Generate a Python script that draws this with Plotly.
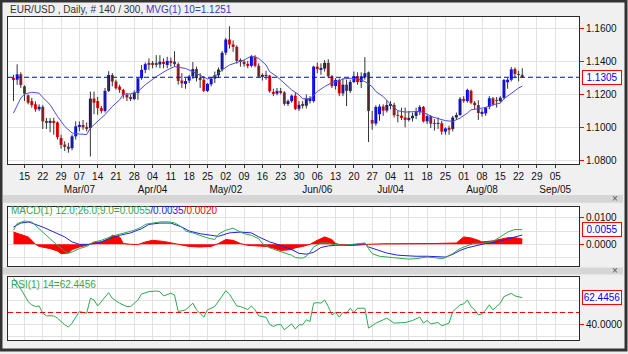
import plotly.graph_objects as go
import pandas as pd

W, H = 628, 354
START = "2016-02-10"
N_BARS = 140
TOTAL_BARS = 300
SYMBOL = "EUR/USD"

OPEN = [1.1296,1.1290,1.1323,1.1250,1.1195,1.1160,1.1140,1.1110,1.1125,1.1036,
        1.1030,1.1035,1.1030,1.0935,1.0895,1.0882,1.0873,1.0945,1.1008,1.1014,
        1.1000,1.0996,1.1175,1.1160,1.1117,1.1100,1.1222,1.1319,1.1279,1.1248,
        1.1228,1.1198,1.1185,1.1172,1.1210,1.1300,1.1350,1.1385,1.1392,1.1392,
        1.1383,1.1398,1.1380,1.1405,1.1400,1.1385,1.1285,1.1265,1.1285,1.1310,
        1.1355,1.1300,1.1290,1.1222,1.1262,1.1297,1.1317,1.1352,1.1455,1.1535,
        1.1505,1.1490,1.1404,1.1400,1.1385,1.1375,1.1430,1.1375,1.1310,1.1315,
        1.1315,1.1215,1.1205,1.1222,1.1213,1.1142,1.1160,1.1193,1.1113,1.1137,
        1.1132,1.1160,1.1160,1.1370,1.1355,1.1358,1.1393,1.1311,1.1252,1.1289,
        1.1207,1.1260,1.1222,1.1276,1.1312,1.1276,1.1305,1.1335,1.1045,1.1023,
        1.1080,1.1127,1.1102,1.1136,1.1137,1.1074,1.1071,1.1060,1.1051,1.1055,
        1.1070,1.1092,1.1124,1.1036,1.1068,1.1022,1.1021,1.1025,1.0974,1.0993,
        1.0990,1.1060,1.1075,1.1172,1.1160,1.1223,1.1150,1.1135,1.1087,1.1085,
        1.1125,1.1177,1.1165,1.1160,1.1180,1.1275,1.1290,1.1355,1.1325,1.1320]
HIGH = [1.1320,1.1384,1.1335,1.1255,1.1200,1.1180,1.1158,1.1140,1.1135,1.1057,
        1.1057,1.1058,1.1036,1.0955,1.0915,1.0905,1.0956,1.1036,1.1036,1.1045,
        1.1030,1.1218,1.1218,1.1185,1.1130,1.1240,1.1342,1.1330,1.1290,1.1260,
        1.1235,1.1210,1.1200,1.1225,1.1305,1.1380,1.1395,1.1420,1.1404,1.1440,
        1.1440,1.1420,1.1430,1.1425,1.1464,1.1395,1.1330,1.1300,1.1320,1.1398,
        1.1370,1.1330,1.1310,1.1270,1.1300,1.1340,1.1365,1.1465,1.1545,1.1616,
        1.1530,1.1500,1.1420,1.1410,1.1405,1.1440,1.1440,1.1390,1.1330,1.1345,
        1.1320,1.1235,1.1240,1.1240,1.1220,1.1170,1.1200,1.1210,1.1160,1.1160,
        1.1200,1.1190,1.1375,1.1395,1.1390,1.1410,1.1415,1.1320,1.1300,1.1298,
        1.1298,1.1290,1.1290,1.1340,1.1335,1.1335,1.1428,1.1340,1.1100,1.1135,
        1.1140,1.1140,1.1165,1.1160,1.1150,1.1100,1.1120,1.1120,1.1100,1.1090,
        1.1120,1.1135,1.1130,1.1080,1.1075,1.1050,1.1060,1.1040,1.1000,1.1010,
        1.1070,1.1090,1.1185,1.1190,1.1235,1.1230,1.1160,1.1165,1.1110,1.1125,
        1.1190,1.1185,1.1185,1.1190,1.1295,1.1300,1.1367,1.1365,1.1345,1.1360]
LOW = [1.1160,1.1259,1.1240,1.1160,1.1140,1.1120,1.1095,1.1100,1.0990,1.0990,
       1.0970,1.0955,1.0925,1.0870,1.0855,1.0845,1.0860,1.0925,1.0976,1.0985,
       1.0975,1.0822,1.1080,1.1077,1.1085,1.1090,1.1215,1.1250,1.1230,1.1210,
       1.1175,1.1160,1.1160,1.1165,1.1168,1.1290,1.1330,1.1350,1.1360,1.1365,
       1.1360,1.1360,1.1360,1.1370,1.1370,1.1260,1.1240,1.1235,1.1270,1.1295,
       1.1280,1.1240,1.1215,1.1215,1.1250,1.1270,1.1300,1.1340,1.1440,1.1480,
       1.1460,1.1388,1.1370,1.1370,1.1360,1.1365,1.1365,1.1300,1.1285,1.1290,
       1.1210,1.1190,1.1195,1.1200,1.1132,1.1130,1.1150,1.1105,1.1100,1.1115,
       1.1115,1.1145,1.1150,1.1330,1.1320,1.1340,1.1300,1.1240,1.1230,1.1190,
       1.1190,1.1130,1.1210,1.1270,1.1260,1.1240,1.1290,1.0910,1.0985,1.1010,
       1.1040,1.1070,1.1090,1.1110,1.1060,1.1030,1.1045,1.1000,1.1035,1.1035,
       1.1050,1.1075,1.1030,1.1020,1.0995,1.0980,1.0990,1.0955,1.0955,1.0955,
       1.0975,1.1045,1.1070,1.1150,1.1150,1.1140,1.1110,1.1045,1.1065,1.1070,
       1.1110,1.1130,1.1120,1.1150,1.1170,1.1235,1.1280,1.1300,1.1280,1.1300]
CLOSE = [1.1290,1.1323,1.1258,1.1205,1.1150,1.1135,1.1110,1.1125,1.1036,1.1030,
         1.1036,1.1030,1.0940,1.0893,1.0885,1.0873,1.0945,1.1006,1.1014,1.1000,
         1.0992,1.1175,1.1150,1.1117,1.1100,1.1222,1.1319,1.1279,1.1238,1.1228,
         1.1198,1.1182,1.1172,1.1210,1.1299,1.1350,1.1385,1.1384,1.1382,1.1383,
         1.1400,1.1392,1.1405,1.1398,1.1385,1.1283,1.1268,1.1282,1.1310,1.1355,
         1.1300,1.1290,1.1222,1.1265,1.1297,1.1317,1.1352,1.1454,1.1535,1.1505,
         1.1490,1.1405,1.1402,1.1385,1.1375,1.1430,1.1375,1.1309,1.1315,1.1317,
         1.1220,1.1205,1.1222,1.1213,1.1143,1.1160,1.1193,1.1113,1.1137,1.1132,
         1.1175,1.1178,1.1370,1.1355,1.1358,1.1393,1.1311,1.1251,1.1289,1.1207,
         1.1260,1.1222,1.1276,1.1312,1.1276,1.1310,1.1330,1.1100,1.1023,1.1124,
         1.1127,1.1102,1.1136,1.1137,1.1074,1.1071,1.1060,1.1051,1.1055,1.1070,
         1.1092,1.1124,1.1036,1.1068,1.1022,1.1021,1.1025,1.0974,1.0993,1.0990,
         1.1060,1.1075,1.1174,1.1165,1.1228,1.1150,1.1135,1.1087,1.1090,1.1120,
         1.1177,1.1140,1.1162,1.1180,1.1288,1.1290,1.1353,1.1325,1.1320,1.1305]

# 10-period moving average, read at sampled bars
MA_IDX = [0,2,3,5,7,8,10,12,14,16,18,20,21,23,25,27,29,30,32,34,36,39,42,44,47,49,51,53,55,57,
          59,61,63,65,67,69,70,72,74,76,78,79,81,83,85,87,89,90,92,94,96,98,99,101,103,105,107,109,111,113,
          114,116,118,120,122,124,125,127,129,131,133,134,136,138,139]
MA_VAL = [1.1087,1.1178,1.1202,1.1214,1.1208,1.1182,1.1138,1.1067,1.1006,1.0965,1.0959,1.0956,1.0996,1.1036,1.1077,
          1.1127,1.1168,1.1202,1.1204,1.1218,1.1259,1.1309,1.1350,1.1370,1.1359,1.1339,1.1319,1.1295,1.1309,1.1350,
          1.1380,1.1394,1.1410,1.1435,1.1420,1.1380,1.1339,1.1309,1.1268,1.1228,1.1198,1.1174,1.1174,1.1218,1.1248,
          1.1273,1.1283,1.1295,1.1299,1.1295,1.1279,1.1248,1.1218,1.1188,1.1140,1.1101,1.1093,1.1093,1.1097,1.1081,
          1.1067,1.1053,1.1041,1.1036,1.1056,1.1087,1.1107,1.1113,1.1121,1.1138,1.1147,1.1174,1.1208,1.1240,1.1251]

MACD_IDX = [0,1,3,5,6,8,10,12,14,15,16,18,20,22,24,26,27,29,31,33,35,36,38,40,42,44,46,47,49,51,
            53,55,56,58,60,61,63,65,67,68,70,72,74,76,77,79,80,81,82,84,86,87,90,93,96,97,98,100,103,106,
            108,110,113,115,117,118,120,122,124,126,128,129,131,133,135,137,139]
MACD_VAL = [0.0053,0.0078,0.0088,0.0084,0.0071,0.0046,0.0021,-0.0004,-0.0025,-0.0033,-0.0029,-0.0016,-0.0008,0.0009,0.0015,
            0.0025,0.0031,0.0038,0.0046,0.0053,0.0065,0.0075,0.0080,0.0084,0.0085,0.0081,0.0065,0.0050,0.0043,0.0034,
            0.0024,0.0018,0.0038,0.0053,0.0061,0.0053,0.0040,0.0034,0.0021,0.0003,-0.0013,-0.0023,-0.0033,-0.0041,-0.0050,
            -0.0052,-0.0045,-0.0030,-0.0010,0.0005,0.0005,0.0000,-0.0004,0.0000,0.0005,-0.0016,-0.0035,-0.0045,-0.0050,-0.0054,
            -0.0056,-0.0054,-0.0048,-0.0050,-0.0054,-0.0050,-0.0035,-0.0016,-0.0004,0.0005,0.0003,0.0005,0.0011,0.0028,0.0046,
            0.0056,0.0055]
SIG_IDX = [0,2,4,5,8,11,14,16,18,21,24,26,29,32,35,37,40,43,46,48,51,54,56,59,62,65,67,70,73,76,
           78,80,82,84,86,88,91,94,96,97,99,102,105,108,110,113,116,118,120,122,124,127,129,132,135,137,139]
SIG_VAL = [0.0065,0.0080,0.0084,0.0080,0.0065,0.0046,0.0028,0.0009,0.0000,0.0000,0.0009,0.0021,0.0034,0.0043,0.0059,
           0.0075,0.0080,0.0080,0.0065,0.0050,0.0040,0.0034,0.0030,0.0043,0.0046,0.0043,0.0028,0.0009,-0.0004,-0.0020,
           -0.0034,-0.0037,-0.0030,-0.0012,-0.0006,-0.0004,-0.0004,0.0000,0.0003,-0.0010,-0.0020,-0.0033,-0.0041,-0.0045,-0.0045,
           -0.0045,-0.0048,-0.0048,-0.0038,-0.0023,-0.0013,-0.0004,0.0003,0.0009,0.0019,0.0028,0.0035]
HIST_IDX = [0,3,4,5,6,7,10,12,13,15,16,18,20,22,24,26,27,29,30,32,34,36,38,41,44,46,48,51,54,56,
            58,60,62,64,67,69,71,73,76,77,79,81,83,85,87,88,90,93,97,101,115,119,121,123,125,127,128,131,133,135,
            137,139]
HIST_VAL = [0.0046,0.0034,0.0028,0.0015,0.0000,-0.0008,-0.0016,-0.0025,-0.0035,-0.0033,-0.0020,-0.0010,-0.0004,0.0008,0.0009,
            0.0021,0.0034,0.0028,0.0003,0.0000,-0.0001,0.0009,0.0015,0.0011,0.0003,-0.0004,-0.0008,-0.0010,-0.0008,0.0003,
            0.0018,0.0015,0.0003,-0.0004,-0.0006,-0.0008,-0.0014,-0.0023,-0.0020,-0.0013,-0.0008,0.0000,0.0015,0.0028,0.0018,
            0.0003,-0.0004,-0.0004,0.0000,0.0002,0.0003,0.0003,0.0005,0.0028,0.0024,0.0015,0.0009,0.0013,0.0018,0.0025,
            0.0025,0.0020]

RSI_IDX = [0,1,3,4,5,6,7,8,9,11,12,14,15,16,18,19,20,21,22,23,24,26,27,29,31,32,34,35,37,39,
           40,41,43,44,45,47,49,50,52,53,55,56,58,59,61,62,63,64,65,66,67,68,69,70,71,72,73,74,75,76,
           77,78,79,80,81,82,83,84,85,86,87,88,89,90,91,92,93,94,95,96,97,98,99,101,102,104,106,107,109,111,
           112,113,114,116,117,118,119,120,122,123,124,125,126,127,128,129,130,131,132,133,134,135,136,137,138,139]
RSI_VAL = [78.6,74.4,64.7,59.1,56.4,55.0,55.5,49.4,47.2,47.2,45.3,39.7,37.8,41.1,50.8,50.0,49.4,61.9,60.5,55.5,
           59.1,66.6,61.9,57.8,55.0,55.0,60.5,65.5,67.5,68.0,67.5,63.9,66.1,64.7,50.8,52.2,57.8,52.2,46.1,52.2,
           55.0,59.1,68.3,65.5,55.5,55.0,53.6,52.5,55.5,52.2,47.2,46.6,46.0,40.0,38.3,39.7,40.0,35.5,38.0,40.5,
           36.1,39.7,39.7,43.9,42.5,57.8,58.3,57.8,60.5,55.0,48.0,50.0,46.1,50.0,49.4,53.6,50.0,53.6,53.6,53.6,
           36.9,38.9,41.1,43.9,45.3,41.1,41.6,41.6,43.3,46.1,41.1,43.3,40.5,41.6,38.9,39.7,41.1,50.8,56.4,57.2,
           60.5,55.0,52.2,48.0,48.9,52.2,56.4,52.2,55.0,57.8,63.3,65.0,66.1,63.9,63.0,62.4456]

MONTH_LABEL_TICKS = ["2016-03-07", "2016-04-04", "2016-05-02", "2016-06-06",
                     "2016-07-04", "2016-08-08", "2016-09-05"]
LAST_TICK = "2016-09-05"
RSI_LABELS = [40]

# ------------------------------------------------------------------
FONT = "Liberation Sans, Arial, sans-serif"
BLUE = "#0000ff"
RED = "#ff0000"
GREEN = "#2fa84f"
MA_COL = "#4a4ae6"
GRID = "#e2e2e2"
FRAME = "#2a2a2a"

def fx(px):
    return px / W

def fy(py):
    return 1 - py / H

dates = pd.bdate_range(START, periods=N_BARS + 25)
idx = list(range(N_BARS))
mondays = [d for d in dates if d.weekday() == 0 and d <= pd.Timestamp(LAST_TICK)]
month_set = set(pd.to_datetime(MONTH_LABEL_TICKS))
tickvals = [dates.get_loc(d) for d in mondays]
ticktext = [(d.strftime("%d") + "<br>" + d.strftime("%b/%d")) if d in month_set else d.strftime("%d")
            for d in mondays]

fig = go.Figure()

# wicks
wx, wy = [], []
for i in idx:
    wx += [i, i, None]
    wy += [LOW[i], HIGH[i], None]
fig.add_trace(go.Scatter(x=wx, y=wy, mode="lines", line=dict(color="#333333", width=1),
                         xaxis="x", yaxis="y", hoverinfo="skip"))
# bodies
base = [min(o, c) for o, c in zip(OPEN, CLOSE)]
height = [max(abs(c - o), 0.0003) for o, c in zip(OPEN, CLOSE)]
cols = [BLUE if c > o else (RED if c < o else "#222222") for o, c in zip(OPEN, CLOSE)]
fig.add_trace(go.Bar(x=idx, y=height, base=base, width=0.8, marker=dict(color=cols, line=dict(width=0)),
                     xaxis="x", yaxis="y", hoverinfo="skip"))
# moving average
fig.add_trace(go.Scatter(x=MA_IDX, y=MA_VAL, mode="lines", line=dict(color=MA_COL, width=1),
                         xaxis="x", yaxis="y"))

# MACD panel
fig.add_trace(go.Scatter(x=HIST_IDX, y=HIST_VAL, mode="lines", fill="tozeroy", fillcolor=RED,
                         line=dict(color=RED, width=1), xaxis="x2", yaxis="y2"))
fig.add_trace(go.Scatter(x=SIG_IDX, y=SIG_VAL, mode="lines", line=dict(color="#2222dd", width=1),
                         xaxis="x2", yaxis="y2"))
fig.add_trace(go.Scatter(x=MACD_IDX, y=MACD_VAL, mode="lines", line=dict(color=GREEN, width=1),
                         xaxis="x2", yaxis="y2"))

# RSI panel
fig.add_trace(go.Scatter(x=RSI_IDX, y=RSI_VAL, mode="lines", line=dict(color=GREEN, width=1),
                         xaxis="x3", yaxis="y3"))

xr = [-1.5, 154.5]
xdom = [fx(8), fx(579)]
common_x = dict(range=xr, domain=xdom, tickvals=tickvals, showgrid=True, gridcolor=GRID, gridwidth=1,
                showline=True, mirror=True, linecolor=FRAME, linewidth=1, zeroline=False, fixedrange=True)
common_y = dict(side="right", showgrid=True, gridcolor=GRID, gridwidth=1, showline=True, mirror=True,
                linecolor=FRAME, linewidth=1, zeroline=False, ticks="outside", ticklen=4, tickcolor=RED,
                tickformat=".4f", tickfont=dict(family=FONT, size=10, color="#111111"))

layout = dict(
    width=W, height=H, margin=dict(l=0, r=0, t=0, b=0),
    paper_bgcolor="#f0f0f0", plot_bgcolor="#ffffff", showlegend=False, barmode="overlay",
    font=dict(family=FONT, size=10, color="#111111"),
    xaxis=dict(common_x, anchor="y", ticktext=ticktext, ticks="outside", ticklen=3, tickcolor="#333333",
               tickangle=0, tickfont=dict(family=FONT, size=10, color="#111111")),
    xaxis2=dict(common_x, anchor="y2", showticklabels=False, matches="x"),
    xaxis3=dict(common_x, anchor="y3", showticklabels=False, matches="x"),
    yaxis=dict(common_y, anchor="x", domain=[fy(165), fy(17)], range=[1.0776, 1.1673],
               tick0=1.08, dtick=0.02),
    yaxis2=dict(common_y, anchor="x2", domain=[fy(268), fy(208)], range=[-0.00835, 0.01412],
                tick0=0, dtick=0.01, minor=dict(dtick=0.005, showgrid=True, gridcolor=GRID)),
    yaxis3=dict(common_y, anchor="x3", domain=[fy(342), fy(279)], range=[26.9, 79.4],
                tickmode="array", tickvals=RSI_LABELS,
                minor=dict(tickmode="array", tickvals=[30, 50, 60, 70], showgrid=True, gridcolor=GRID)),
)
fig.update_layout(**layout)

shapes = []
# separator strips
for y0, y1 in [(196, 204), (269, 276)]:
    shapes.append(dict(type="rect", xref="paper", yref="paper", x0=fx(3), x1=fx(623), y0=fy(y1), y1=fy(y0),
                       fillcolor="#d6d6d6", line=dict(width=0), layer="below"))
# last price dashed line
shapes.append(dict(type="line", xref="x", yref="y", x0=xr[0], x1=xr[1], y0=CLOSE[-1], y1=CLOSE[-1],
                   line=dict(color=BLUE, width=1, dash="5px,3px")))
# RSI mid line
shapes.append(dict(type="line", xref="x3", yref="y3", x0=xr[0], x1=xr[1], y0=50, y1=50,
                   line=dict(color=RED, width=1, dash="5px,3px")))
# outer frame
shapes.append(dict(type="rect", xref="paper", yref="paper", x0=fx(1), x1=fx(626), y0=fy(352), y1=fy(1),
                   line=dict(color="#333333", width=3)))
fig.update_layout(shapes=shapes)

ann = []
title = (f"<span style='color:#333333'>{SYMBOL} , Daily, # {N_BARS} / {TOTAL_BARS}, </span>"
         f"<span style='color:#3535d0'>MVG(1) 10={MA_VAL[-1]:.4f}</span>")
ann.append(dict(xref="paper", yref="paper", x=fx(8), y=fy(10), xanchor="left", yanchor="middle",
                text=title, showarrow=False, font=dict(family=FONT, size=10)))
macd_txt = (f"<span style='color:{GREEN}'>MACD(1) 12.0;26.0;9.0={MACD_VAL[-1]:.4f}</span>"
            f"<span style='color:#2222dd'>/{SIG_VAL[-1]:.4f}</span>"
            f"<span style='color:{RED}'>/{HIST_VAL[-1]:.4f}</span>")
ann.append(dict(xref="paper", yref="paper", x=fx(9), y=fy(212), xanchor="left", yanchor="middle",
                text=macd_txt, showarrow=False, font=dict(family=FONT, size=10)))
ann.append(dict(xref="paper", yref="paper", x=fx(9), y=fy(286), xanchor="left", yanchor="middle",
                text=f"RSI(1) 14={RSI_VAL[-1]:.4f}", showarrow=False,
                font=dict(family=FONT, size=10, color=GREEN)))
for yref, val in [("y", CLOSE[-1]), ("y2", MACD_VAL[-1]), ("y3", RSI_VAL[-1])]:
    ann.append(dict(xref="paper", yref=yref, x=fx(582), y=val, xanchor="left", yanchor="middle",
                    text=f"{val:.4f}", showarrow=False, bgcolor="#ffffff", bordercolor=RED,
                    borderwidth=1, borderpad=1, width=36,
                    font=dict(family=FONT, size=10, color=BLUE)))
for ysep in [200, 272.5]:
    ann.append(dict(xref="paper", yref="paper", x=fx(615), y=fy(ysep), xanchor="center", yanchor="middle",
                    text="×", showarrow=False, font=dict(family=FONT, size=10, color="#555555")))
fig.update_layout(annotations=ann)

fig.write_html("out.html")
